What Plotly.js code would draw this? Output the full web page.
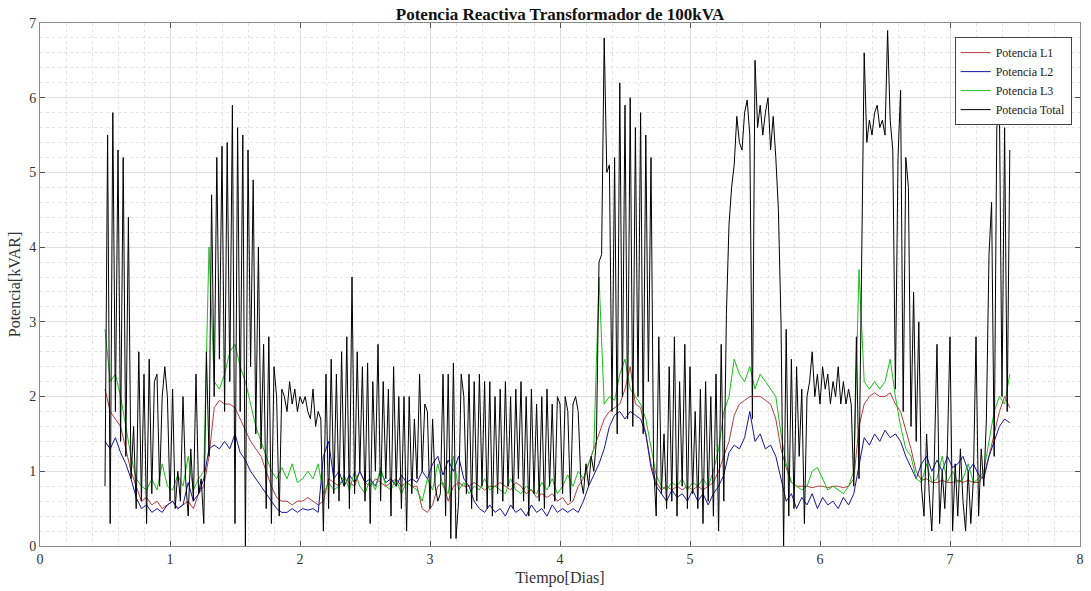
<!DOCTYPE html>
<html>
<head>
<meta charset="utf-8">
<script src="https://cdn.plot.ly/plotly-3.0.1.min.js"></script>
<style>html,body{margin:0;padding:0;background:#fff;}#chart{width:1091px;height:591px;}</style>
</head>
<body>
<div id="chart"></div>
<script>
// Time axis (days): total power sampled every 0.02 d, phase powers every 0.04 d, both from 0.5 d
const startDay = 0.5;
const stepTotal = 0.02;
const stepPhase = 0.04;
const seriesNames = ["Potencia L1", "Potencia L2", "Potencia L3", "Potencia Total"];

// Potencia Total [kVAR] (rows of 0.2 day)
const potTotal = [
  0.8,5.5,0.3,5.8,1.8,5.3,1.4,5.2,1.2,4.4,
  0.9,1.6,0.5,2.6,0.6,2.3,0.3,2.5,0.7,2.2,
  2.3,0.8,2.0,2.4,2.0,0.6,2.1,0.5,1.0,0.6,
  2.0,0.9,0.4,1.3,0.6,2.3,0.7,0.9,0.3,2.6,
  1.2,4.7,2.0,5.2,2.5,5.35,1.8,5.4,2.2,5.9,
  0.3,5.6,1.8,5.5,0.0,5.3,2.4,4.9,1.5,4.0,
  1.3,2.7,0.5,2.8,0.3,2.4,2.0,0.4,2.1,2.0,
  1.8,2.2,1.9,2.1,1.8,2.0,1.9,2.0,1.8,1.7,
  2.1,1.6,1.8,1.7,0.2,2.3,0.5,2.5,0.7,2.3,
  0.6,2.6,0.8,2.8,0.5,3.6,0.7,2.6,1.0,2.4,
  0.6,2.45,0.3,2.2,1.0,2.7,0.6,2.2,0.9,2.1,
  0.4,2.4,0.8,2.0,0.5,2.0,0.2,2.0,0.7,1.7,
  0.9,2.3,1.0,1.9,1.8,0.5,1.7,0.8,0.6,0.7,
  2.3,0.4,2.3,0.1,2.45,0.1,0.6,2.3,2.0,0.7,
  2.3,0.5,2.2,0.6,2.3,0.8,2.2,0.5,2.2,0.4,
  2.0,0.7,2.1,0.6,2.2,0.8,2.0,0.5,2.1,0.9,
  2.2,0.6,2.0,0.4,2.1,0.7,1.9,0.6,2.0,0.5,
  2.1,0.8,1.9,0.6,2.0,1.9,0.7,2.0,1.8,0.6,
  1.9,2.0,1.8,0.9,0.7,1.1,0.8,1.2,1.0,1.4,
  3.8,3.9,6.8,5.0,5.1,1.8,5.2,1.5,6.2,2.0,
  5.9,1.7,6.0,1.6,5.6,2.0,5.8,1.5,5.5,2.2,
  5.2,1.1,0.4,2.8,0.7,1.5,0.5,2.4,0.6,2.8,
  0.4,2.2,0.8,2.7,0.5,2.4,0.7,1.8,0.5,2.1,
  0.3,2.2,0.6,2.0,0.4,2.3,0.2,2.7,0.6,3.1,
  4.3,4.8,5.1,5.75,5.4,5.3,5.8,5.97,5.5,1.7,
  6.5,5.6,5.9,5.5,5.8,6.0,5.3,5.75,5.2,4.5,
  3.0,0.0,2.9,0.4,2.5,0.5,2.4,1.2,2.1,0.3,
  2.0,2.2,2.6,2.0,2.3,1.9,2.4,2.1,2.3,1.9,
  2.2,2.0,2.4,1.9,2.2,1.9,2.1,1.9,0.8,2.8,
  0.9,4.2,6.6,5.4,5.7,5.5,5.8,5.9,5.6,5.7,
  5.5,6.9,5.7,5.3,2.1,5.2,6.1,1.8,5.2,4.8,
  1.6,3.4,1.4,3.0,0.8,0.4,1.5,0.7,0.2,1.2,
  2.7,0.3,1.0,0.5,1.3,2.8,0.2,1.1,0.4,1.3,
  0.6,0.2,1.0,0.3,0.9,2.8,0.4,1.3,0.8,1.7,
  3.9,4.6,1.2,5.6,5.9,2.0,5.6,1.8,5.3
];

// Potencia L1 [kVAR]
const potL1 = [
  2.1,1.8,1.7,1.6,1.3,
  1.0,0.8,0.6,0.65,0.55,
  0.6,0.5,0.55,0.6,0.5,
  0.55,0.6,0.5,0.7,0.8,
  1.2,1.85,1.95,1.9,1.9,
  1.85,1.7,1.55,1.4,1.3,
  1.2,1.0,0.8,0.65,0.6,
  0.6,0.55,0.6,0.6,0.65,
  0.6,0.55,0.6,0.9,0.85,
  0.8,0.9,0.85,0.8,1.0,
  0.85,0.8,0.9,0.85,0.8,
  0.85,0.9,0.8,0.85,0.8,
  0.8,0.5,0.45,0.55,0.8,
  0.85,0.6,0.8,0.85,0.8,
  0.8,0.85,0.8,0.75,0.8,
  0.8,0.85,0.8,0.75,0.85,
  0.8,0.7,0.75,0.65,0.7,
  0.65,0.7,0.6,0.65,0.55,
  0.6,0.8,0.9,1.1,1.3,
  1.5,1.7,1.8,1.85,1.9,
  2.1,2.4,1.9,1.85,1.5,
  1.1,0.85,0.75,0.8,0.75,
  0.8,0.75,0.8,0.75,0.8,
  0.75,0.8,0.85,1.0,1.2,
  1.4,1.75,1.9,1.95,2.0,
  2.0,2.0,1.95,1.9,1.7,
  1.3,1.05,0.85,0.8,0.8,
  0.8,0.78,0.8,0.8,0.78,
  0.8,0.8,0.78,0.8,0.9,
  1.6,1.9,2.0,2.05,2.0,
  2.0,2.05,1.9,1.8,1.55,
  1.3,1.0,0.88,0.9,0.85,
  0.85,0.88,0.85,0.85,0.88,
  0.85,0.88,0.85,0.85,0.95,
  1.2,1.5,1.8,2.0,1.85
];

// Potencia L2 [kVAR]
const potL2 = [
  1.4,1.3,1.45,1.25,1.1,
  0.9,0.65,0.5,0.55,0.45,
  0.5,0.45,0.55,0.6,0.5,
  0.55,0.85,0.6,0.7,0.9,
  1.3,1.35,1.3,1.4,1.3,
  1.5,1.25,1.15,1.0,0.9,
  0.8,0.7,0.6,0.5,0.45,
  0.45,0.5,0.45,0.5,0.48,
  0.5,0.45,1.2,1.4,0.9,
  1.0,0.8,0.95,0.85,1.0,
  0.85,0.9,0.8,1.0,0.85,
  0.9,0.8,0.95,0.85,0.9,
  0.85,1.0,0.9,1.1,1.2,
  0.95,1.15,1.0,1.2,0.9,
  0.8,0.6,0.5,0.45,0.55,
  0.45,0.5,0.4,0.55,0.45,
  0.5,0.4,0.55,0.45,0.5,
  0.4,0.55,0.45,0.5,0.45,
  0.5,0.45,0.6,0.8,0.95,
  1.1,1.3,1.6,1.75,1.8,
  1.7,1.8,1.75,1.7,1.5,
  1.05,0.8,0.7,0.6,0.75,
  0.65,0.7,0.6,0.75,0.6,
  0.7,0.55,0.7,0.8,0.95,
  1.25,1.35,1.3,1.45,1.8,
  1.4,1.5,1.3,1.35,1.2,
  0.9,0.6,0.7,0.5,0.65,
  0.55,0.7,0.5,0.65,0.55,
  0.6,0.5,0.65,0.55,0.7,
  1.1,1.45,1.35,1.5,1.4,
  1.55,1.45,1.5,1.4,1.2,
  1.05,0.9,1.1,1.2,1.0,
  1.15,1.0,1.2,1.05,1.1,
  1.2,1.0,1.1,0.95,0.9,
  1.2,1.4,1.6,1.7,1.65
];

// Potencia L3 [kVAR]
const potL3 = [
  2.9,2.2,2.3,2.0,1.6,
  1.2,0.9,0.8,0.75,0.9,
  0.75,1.1,0.8,0.75,0.95,
  0.8,1.2,0.75,0.9,1.0,
  4.0,2.2,2.1,2.3,2.6,
  2.7,2.4,2.2,1.9,1.6,
  1.4,1.2,1.0,0.9,1.05,
  0.9,1.1,0.85,0.9,1.0,
  0.9,1.1,0.7,0.85,0.75,
  0.8,0.95,0.75,1.0,0.8,
  0.7,0.9,0.75,1.05,0.8,
  0.75,0.9,0.7,0.85,0.8,
  0.75,0.6,0.9,0.75,1.1,
  0.8,0.7,1.2,0.75,0.85,
  0.7,0.8,0.75,0.9,0.75,
  0.8,0.75,0.7,0.9,0.75,
  0.7,0.8,0.75,0.7,0.85,
  0.75,0.9,0.7,0.8,0.95,
  0.8,1.0,0.9,1.1,1.3,
  3.6,1.9,2.0,1.95,2.3,
  2.5,2.1,2.0,1.9,1.7,
  1.3,0.95,0.8,0.75,0.85,
  0.8,0.9,0.75,0.85,0.8,
  0.9,0.8,1.0,1.3,1.8,
  2.0,2.5,2.3,2.2,2.4,
  2.1,2.3,2.2,2.1,2.0,
  1.5,1.1,0.85,0.8,0.75,
  0.8,1.0,1.05,0.9,0.75,
  0.8,0.75,0.7,0.8,1.0,
  3.7,2.2,2.1,2.2,2.1,
  2.2,2.5,2.0,1.6,1.3,
  1.2,0.9,0.85,1.1,0.85,
  0.9,1.2,0.85,1.0,0.85,
  0.9,1.1,0.85,0.9,1.0,
  1.4,1.8,2.0,1.9,2.3
];

function days(n, step) {
  const out = [];
  for (let i = 0; i < n; i++) out.push(+(startDay + i * step).toFixed(4));
  return out;
}

const serif = "'Liberation Serif', 'Times New Roman', serif";
const colors = ["#b83a3a", "#1414a8", "#14c414", "#000000"];
const data = [potL1, potL2, potL3, potTotal];
const steps = [stepPhase, stepPhase, stepPhase, stepTotal];

const traces = data.map((vals, k) => ({
  type: "scatter",
  mode: "lines",
  name: seriesNames[k],
  x: days(vals.length, steps[k]),
  y: vals,
  line: {color: colors[k], width: 1}
}));

const axisCommon = {
  showline: true,
  linecolor: "#8a8a8a",
  linewidth: 1,
  mirror: "ticks",
  ticks: "inside",
  ticklen: 5,
  tickcolor: "#555",
  showgrid: true,
  gridcolor: "#dedede",
  gridwidth: 1,
  zeroline: false,
  tickfont: {family: serif, size: 14, color: "#333"},
};

const layout = {
  width: 1091,
  height: 591,
  margin: {l: 40, r: 11, t: 23, b: 45},
  paper_bgcolor: "#ffffff",
  plot_bgcolor: "#ffffff",
  showlegend: true,
  title: {
    text: "<b>Potencia Reactiva Transformador de 100kVA</b>",
    font: {family: serif, size: 17, color: "#111"},
    x: 0.5, xanchor: "center", xref: "paper",
    y: 0.977, yanchor: "middle"
  },
  xaxis: Object.assign({}, axisCommon, {
    range: [0, 8],
    dtick: 1,
    tick0: 0,
    minor: {dtick: 0.2, showgrid: true, gridcolor: "#e4e4e4", griddash: "dot", ticks: ""},
    title: {text: "Tiempo[Dias]", font: {family: serif, size: 16, color: "#333"}, standoff: 6}
  }),
  yaxis: Object.assign({}, axisCommon, {
    range: [0, 7],
    dtick: 1,
    tick0: 0,
    minor: {dtick: 0.2, showgrid: true, gridcolor: "#e4e4e4", griddash: "dot", ticks: ""},
    title: {text: "Potencia[kVAR]", font: {family: serif, size: 16, color: "#333"}, standoff: 4}
  }),
  legend: {
    x: 0.992, xanchor: "right",
    y: 0.973, yanchor: "top",
    bgcolor: "#ffffff",
    bordercolor: "#444",
    borderwidth: 1,
    font: {family: serif, size: 12, color: "#222"},
    tracegroupgap: 0,
    itemwidth: 30
  }
};

Plotly.newPlot("chart", traces, layout, {displayModeBar: false, staticPlot: true});
</script>
</body>
</html>
